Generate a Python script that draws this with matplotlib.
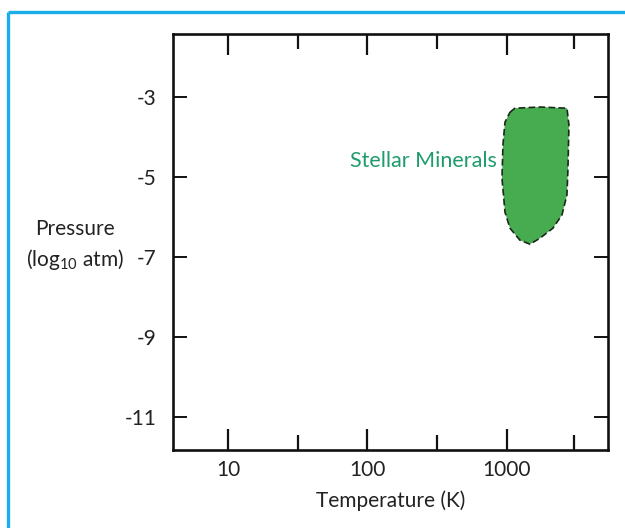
import matplotlib
matplotlib.use("Agg")
import matplotlib.pyplot as plt
from matplotlib.lines import Line2D
from matplotlib.ticker import FixedLocator, NullFormatter
import numpy as np

plt.rcParams['font.family'] = ['Lato', 'DejaVu Sans']
plt.rcParams['mathtext.fontset'] = 'custom'
plt.rcParams['mathtext.rm'] = 'Lato'

# Axis ticks and labels
x_major = [10, 100, 1000]
x_major_labels = ['10', '100', '1000']
x_minor = [31.6, 316, 3000]
y_major = [-3, -5, -7, -9, -11]
y_major_labels = ['-3', '-5', '-7', '-9', '-11']

# Outline of the stellar minerals region (temperature K, log10 pressure atm)
region_T = [1051, 1141, 1725, 2692, 2782, 2735, 2692, 2478, 2136, 1725,
            1462, 1239, 1051, 968, 921, 936, 968]
region_P = [-3.38, -3.28, -3.25, -3.28, -3.70, -4.83, -5.45, -5.95, -6.28, -6.53,
            -6.68, -6.58, -6.28, -5.88, -5.03, -4.20, -3.63]
region_label = 'Stellar Minerals'

fig = plt.figure(figsize=(6.25, 5.28), dpi=100)
W, H = 625, 528

# light blue frame around the panel
blue = '#1aaee8'
fig.add_artist(Line2D([8 / W, 1.0], [1 - 12 / H, 1 - 12 / H], color=blue, lw=2.4,
                      transform=fig.transFigure, solid_capstyle='butt'))
fig.add_artist(Line2D([8 / W, 8 / W], [0.0, 1 - 12 / H], color=blue, lw=2.4,
                      transform=fig.transFigure, solid_capstyle='butt'))

ax = fig.add_axes([173 / W, 1 - 450 / H, 435 / W, 416 / H])
ax.set_xscale('log')
ax.set_xlim(4.04, 5300)
ax.set_ylim(-11.825, -1.425)

ax.fill(region_T, region_P, facecolor='#47ab50', edgecolor='#1a2a1a',
        linestyle=(0, (4, 2)), linewidth=1.2, zorder=3)
ax.text(850, -4.6, region_label, color='#1e9c6c', fontsize=15.5,
        ha='right', va='center')

for s in ax.spines.values():
    s.set_linewidth(1.9)
    s.set_color('#111111')

ax.xaxis.set_major_locator(FixedLocator(x_major))
ax.set_xticklabels(x_major_labels)
ax.xaxis.set_minor_locator(FixedLocator(x_minor))
ax.xaxis.set_minor_formatter(NullFormatter())
ax.set_yticks(y_major)
ax.set_yticklabels(y_major_labels)

ax.tick_params(axis='x', which='major', direction='in', length=15, width=1.6,
               top=True, bottom=True, labelsize=15, pad=7, color='#111111',
               labelcolor='#222222')
ax.tick_params(axis='x', which='minor', direction='in', length=11, width=1.6,
               top=True, bottom=True, color='#111111')
ax.tick_params(axis='y', which='major', direction='in', length=10, width=1.4,
               left=True, right=True, labelsize=15, pad=12, color='#111111',
               labelcolor='#222222')

ax.set_xlabel('Temperature (K)', fontsize=15, labelpad=8, color='#222222')

fig.text(75 / W, 1 - 229 / H, 'Pressure', fontsize=15, ha='center', va='center',
         color='#222222')
fig.text(75 / W, 1 - 260 / H, r'(log$_{\mathrm{10}}$ atm)', fontsize=15,
         ha='center', va='center', color='#222222')

fig.savefig('out.png', dpi=100)
